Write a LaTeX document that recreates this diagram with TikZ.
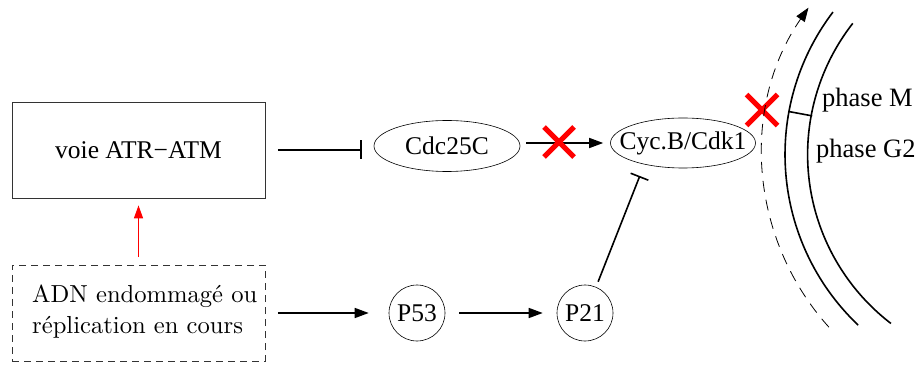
\documentclass[tikz,border=0pt]{standalone}
\usepackage{fontspec}
\newfontfamily\tms{Liberation Serif}
\newfontfamily\lmten{lmroman10-regular.otf}
\usetikzlibrary{arrows.meta,calc,shapes.geometric,shapes.misc}
\begin{document}
\begin{tikzpicture}[x=1pt,y=1pt,
  tfont/.style={font=\tms\fontsize{25.5}{30}\selectfont},
  lfont/.style={font=\lmten\fontsize{24.6}{30}\selectfont},
  box/.style={draw=black!80, line width=0.8pt, minimum width=253pt, minimum height=96pt, inner sep=0pt},
  oval/.style={draw, ellipse, line width=0.6pt, inner sep=0pt, tfont},
  circ/.style={draw, circle, line width=0.6pt, minimum size=56pt, inner sep=0pt, tfont},
  conn/.style={line width=1.6pt},
  arr/.style={conn, -{Triangle[length=14pt,width=10pt]}},
  inh/.style={conn, -{Bar[width=19pt,line width=1.6pt]}},
  crossx/.style={cross out, draw=red, line width=5pt, minimum size=25pt, inner sep=0pt},
  phase/.style={line width=1.6pt},
  ]
\useasboundingbox (0,0) rectangle (920,364);

% boxes
\node[box, tfont] (atr) at (138.5,214) {voie ATR−ATM};
\node[box, dash pattern=on 7pt off 5pt] (adn) at (138.5,51) {};
\node[anchor=base west, inner sep=0pt, lfont] (adn1) at (32,61) {ADN endommagé ou};
\node[anchor=base west, inner sep=0pt, lfont] (adn2) at (32,31) {réplication en cours};

% molecules
\node[oval, minimum width=146pt, minimum height=51pt] (cdc) at (447,218) {\makebox[0pt]{Cdc25C}};
\node[oval, minimum width=145pt, minimum height=50pt] (cyc) at (683,221) {\makebox[0pt]{Cyc.B/Cdk1}};
\node[circ] (p53) at (417,51) {P53};
\node[circ] (p21) at (585,51) {P21};

% connectors
\draw[inh, shorten <=12.5pt, shorten >=12pt] (atr.east) -- (atr.east -| cdc.west);
\draw[arr, shorten <=6pt, shorten >=7pt] (cdc.east |- cyc.west) -- (cyc.west);
\draw[red, line width=1.4pt, -{Triangle[length=13pt,width=9pt]}, shorten <=7.5pt, shorten >=7pt] (adn.north) -- (atr.south);
\draw[arr, shorten <=12.5pt, shorten >=20pt] (adn.east) -- (adn.east -| p53.west);
\draw[arr, shorten <=14pt, shorten >=14pt] (p53.east) -- (p21.west);
\draw[inh, shorten <=5.6pt, shorten >=12.4pt] (p21.67) -- (cyc.209);

% blocked marks
\node[crossx] (x1) at (559,222) {};
\node[crossx, minimum size=26pt] (x2) at (762,254) {};

% cell cycle arcs
\coordinate (cc) at (1020.6,209.5);
\draw[phase] (cc) ++(142.8:235.6) arc[start angle=142.8, end angle=226.4, radius=235.6];
\draw[phase] (cc) ++(142:213) arc[start angle=142, end angle=232.5, radius=213];
\draw[line width=0.8pt, dash pattern=on 11pt off 8pt, -{Triangle[length=14pt,width=10pt]}] (cc) ++(222:258) arc[start angle=222, end angle=145.3, radius=258];
\draw[phase] ($(cc)+(169.5:212)$) -- ($(cc)+(169.5:235.6)$);

\node[anchor=base west, inner sep=0pt, font=\tms\fontsize{26.5}{30}\selectfont] (pm) at (822,257) {phase M};
\node[anchor=base west, inner sep=0pt, font=\tms\fontsize{26.5}{30}\selectfont] (pg) at (816,206) {phase G2};
\end{tikzpicture}
\end{document}
